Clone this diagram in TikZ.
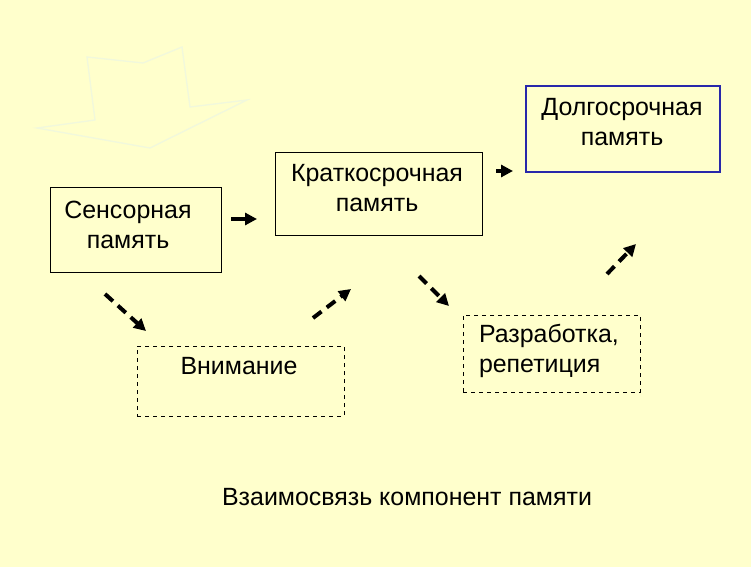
\documentclass[tikz,border=0pt]{standalone}
\usepackage{fontspec}
\setmainfont{Liberation Sans}
\usetikzlibrary{arrows.meta}
\definecolor{bgyellow}{RGB}{255,255,204}
\definecolor{ghost}{RGB}{241,248,220}
\definecolor{ltmblue}{RGB}{40,40,170}
\begin{document}
\begin{tikzpicture}[x=0.75pt,y=-0.75pt,inner sep=0pt,outer sep=0pt,
  font=\fontsize{18.7}{22.5}\selectfont,
  membox/.style={draw,rectangle,thin},
  aidbox/.style={draw,rectangle,thin,dashed},
  txt/.style={align=center},
  solidarr/.style={line width=3pt,-{Triangle[length=9pt,width=9pt]}},
  dasharr/.style={line width=3pt,dash pattern=on 8pt off 5pt,-{Triangle[length=9pt,width=9pt]}}]
\fill[bgyellow] (0,0) rectangle (751,567);
% faint arrow in the corner
\draw[ghost,line width=1pt] (87,57) -- (143,63) -- (182,47) -- (190,107) -- (247,100)
  -- (150,148) -- (37,128) -- (95,120) -- cycle;
% boxes
\draw (135.5,229.5) node[membox,minimum width=128.25pt,minimum height=63.75pt] (sens) {};
\draw (378.5,193.5) node[membox,minimum width=155.25pt,minimum height=62.25pt] (short) {};
\draw (623,129) node[membox,draw=ltmblue,line width=1pt,minimum width=145.5pt,minimum height=64.5pt] (long) {};
\draw (240.5,381) node[aidbox,minimum width=155.25pt,minimum height=52.5pt] (attn) {};
\draw (551.5,353.5) node[aidbox,minimum width=132.75pt,minimum height=57.75pt] (elab) {};
% texts
\draw (128,225) node[txt] (senstxt) {Сенсорная\\память};
\draw (377,188) node[txt] (shorttxt) {Краткосрочная\\память};
\draw (622,122) node[txt] (longtxt) {Долгосрочная\\память};
\draw (239,366) node[txt] (attntxt) {Внимание};
\draw (479,351) node[align=left,anchor=west] (elabtxt) {Разработка,\\репетиция};
\draw (407,497) node (caption) {Взаимосвязь компонент памяти};
% arrows
\coordinate (a1) at (231,219); \coordinate (a2) at (257,219);
\coordinate (b1) at (496,171); \coordinate (b2) at (513,171);
\coordinate (c1) at (105,294); \coordinate (c2) at (146,331);
\coordinate (d1) at (313,318); \coordinate (d2) at (351,289);
\coordinate (e1) at (419,276); \coordinate (e2) at (449,306);
\coordinate (f1) at (607,274); \coordinate (f2) at (636,244);
\draw[solidarr] (a1) -- (a2);
\draw[solidarr] (b1) -- (b2);
\draw[dasharr] (c1) -- (c2);
\draw[dasharr] (d1) -- (d2);
\draw[dasharr] (e1) -- (e2);
\draw[dasharr] (f1) -- (f2);
\end{tikzpicture}
\end{document}
